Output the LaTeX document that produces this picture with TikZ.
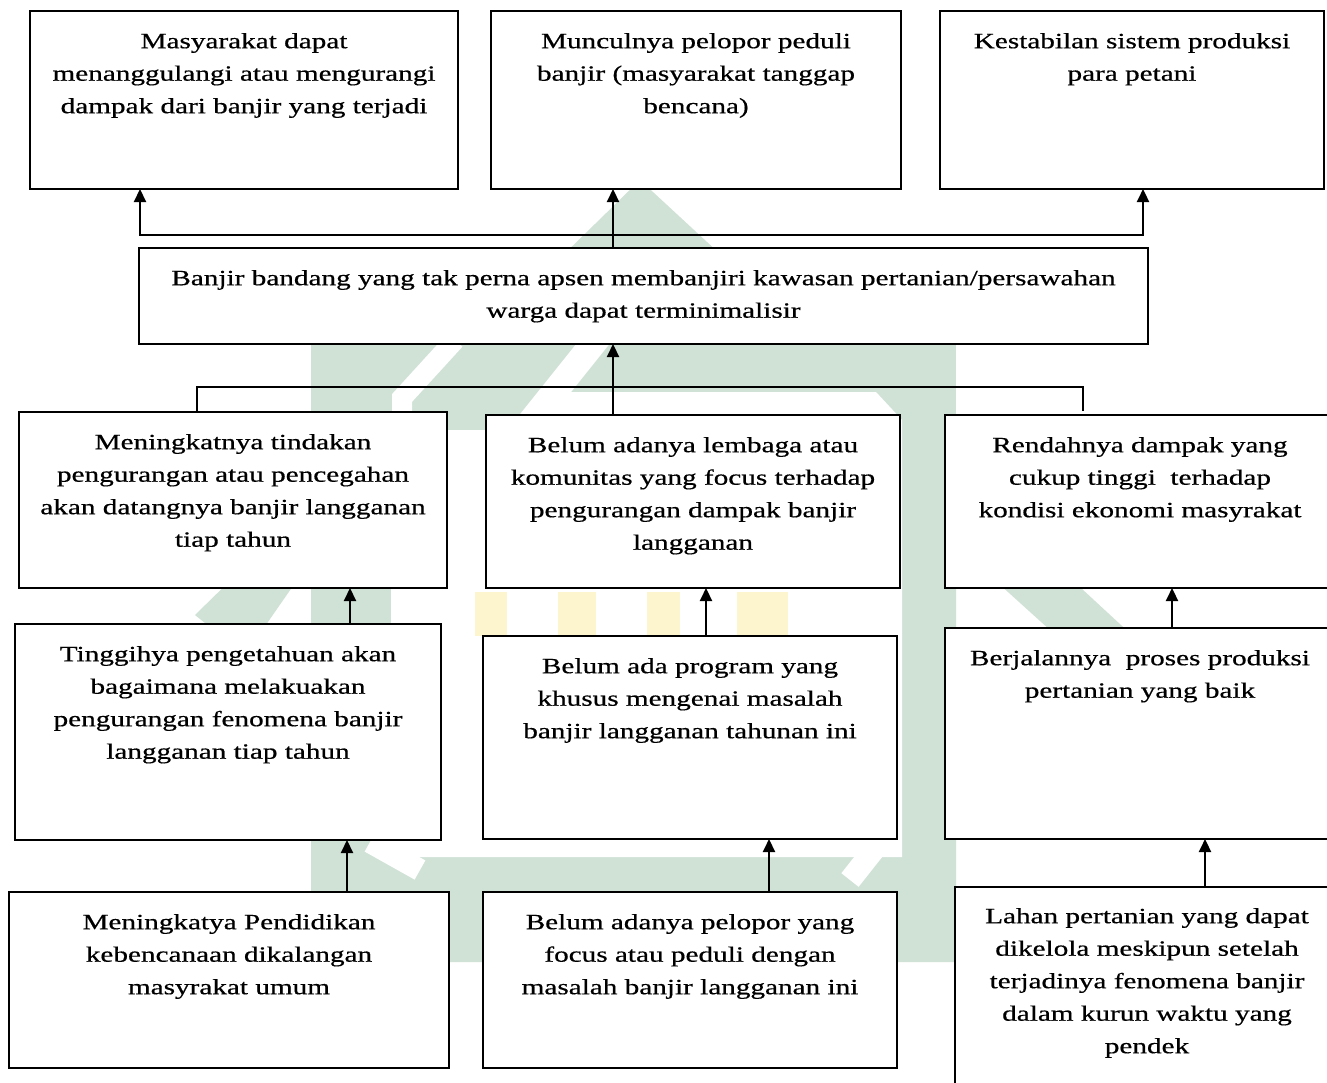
\documentclass[tikz,border=0pt]{standalone}
\usepackage{fontspec}
\usepackage{graphicx}
\newfontfamily\tnr[FakeBold=0.5]{Liberation Serif}
\usetikzlibrary{arrows.meta,fit}
\definecolor{wmgreen}{RGB}{208,226,214}
\definecolor{wmyellow}{RGB}{252,245,205}
\tikzset{
  box/.style={draw=black, fill=white, line width=2pt, inner sep=0pt, outer sep=0pt},
  txt/.style={anchor=north, inner sep=0pt, font=\tnr\fontsize{21.8}{32.5}\selectfont},
  arr/.style={line width=2.2pt, -{Triangle[length=13pt,width=12pt]}},
  conn/.style={line width=2pt},
  wmstripe/.style={draw=white, line width=#1}
}
\newcommand\mybox[5]{%
  \path (#2,#3) coordinate (#1@a) (#4,#5) coordinate (#1@b);
  \node[box, fit=(#1@a)(#1@b)] (#1) {};}
\newcommand\tx[1]{\scalebox{1.34}[1]{\begin{tabular}{@{}c@{}}#1\end{tabular}}}
\begin{document}
\begin{tikzpicture}[x=1pt,y=-1pt]
\useasboundingbox (0,0) rectangle (1327,1082);
\clip (0,0) rectangle (1327,1082);
\fill[white] (0,0) rectangle (1327,1082);
% faint watermark (behind the boxes)
\fill[wmgreen] (640,180) -- (1135,638) -- (1092,668) -- (956,545) -- (956,962)
  -- (311,962) -- (311,560) -- (245,655) -- (195,615) -- cycle;
\fill[wmgreen] (311,300) rectangle (956,962);
\fill[white] (391,600) -- (391,430) -- (523,430) -- (568,392) -- (876,392)
  -- (902,420) -- (902,857) -- (391,857) -- cycle;
\draw[wmstripe=20] (455,340) -- (402,398) -- (402,412);
\draw[wmstripe=26] (600,335) -- (520,435);
\draw[wmstripe=22] (370,842) -- (420,870);
\draw[wmstripe=22] (880,842) -- (850,880);
\fill[wmyellow] (475,592) rectangle (507,636);
\fill[wmyellow] (558,592) rectangle (596,636);
\fill[wmyellow] (647,592) rectangle (680,636);
\fill[wmyellow] (737,592) rectangle (788,636);
% boxes
\mybox{t1}{30}{11}{458}{189}
\mybox{t2}{491}{11}{901}{189}
\mybox{t3}{940}{11}{1324}{189}
\mybox{b}{139}{248}{1148}{344}
\mybox{m1}{19}{412}{447}{588}
\mybox{m2}{486}{415}{900}{588}
\mybox{m3}{945}{415}{1335}{588}
\mybox{n1}{15}{624}{441}{840}
\mybox{n2}{483}{636}{897}{839}
\mybox{n3}{945}{628}{1335}{839}
\mybox{r1}{9}{892}{449}{1068}
\mybox{r2}{483}{892}{897}{1068}
\mybox{r3}{955}{887}{1340}{1100}
% texts
\node[txt] (t1x) at (244,25.25) {\tx{Masyarakat dapat\\menanggulangi atau mengurangi\\dampak dari banjir yang terjadi}};
\node[txt] (t2x) at (696,25.25) {\tx{Munculnya pelopor peduli\\banjir (masyarakat tanggap\\bencana)}};
\node[txt] (t3x) at (1132,25.25) {\tx{Kestabilan sistem produksi\\para petani}};
\node[txt] (bx) at (643.5,262.25) {\tx{Banjir bandang yang tak perna apsen membanjiri kawasan pertanian/persawahan\\warga dapat terminimalisir}};
\node[txt] (m1x) at (233,426.25) {\tx{Meningkatnya tindakan\\pengurangan atau pencegahan\\akan datangnya banjir langganan\\tiap tahun}};
\node[txt] (m2x) at (693,429.25) {\tx{Belum adanya lembaga atau\\komunitas yang focus terhadap\\pengurangan dampak banjir\\langganan}};
\node[txt] (m3x) at (1140,429.25) {\tx{Rendahnya dampak yang\\cukup tinggi\ \ terhadap\\kondisi ekonomi masyrakat}};
\node[txt] (n1x) at (228,638.25) {\tx{Tinggihya pengetahuan akan\\bagaimana melakuakan\\pengurangan fenomena banjir\\langganan tiap tahun}};
\node[txt] (n2x) at (690,650.25) {\tx{Belum ada program yang\\khusus mengenai masalah\\banjir langganan tahunan ini}};
\node[txt] (n3x) at (1140,642.25) {\tx{Berjalannya\ \ proses produksi\\pertanian yang baik}};
\node[txt] (r1x) at (229,906.25) {\tx{Meningkatya Pendidikan\\kebencanaan dikalangan\\masyrakat umum}};
\node[txt] (r2x) at (690,906.25) {\tx{Belum adanya pelopor yang\\focus atau peduli dengan\\masalah banjir langganan ini}};
\node[txt] (r3x) at (1147,900.25) {\tx{Lahan pertanian yang dapat\\dikelola meskipun setelah\\terjadinya fenomena banjir\\dalam kurun waktu yang\\pendek}};
% upper connectors
\coordinate (ja) at (140,235);
\coordinate (jb) at (1143,235);
\coordinate (jm) at (613,235);
\draw[arr] (jb) -- (ja) -- (ja |- t1.south);
\draw[arr] (ja) -- (jb) -- (jb |- t3.south);
\draw[arr] (jm |- b.north) -- (jm |- t2.south);
% middle connectors
\coordinate (kl) at (197,387);
\coordinate (kr) at (1083,387);
\coordinate (km) at (613,387);
\coordinate (kre) at (1083,411);
\draw[conn] (kl |- m1.north) -- (kl) -- (kr) -- (kre);
\draw[arr] (km |- m2.north) -- (km |- b.south);
% lower arrows
\coordinate (c1) at (350,0);
\coordinate (c2) at (706,0);
\coordinate (c3) at (1172,0);
\coordinate (d1) at (347,0);
\coordinate (d2) at (769,0);
\coordinate (d3) at (1205,0);
\draw[arr] (c1 |- n1.north) -- (c1 |- m1.south);
\draw[arr] (c2 |- n2.north) -- (c2 |- m2.south);
\draw[arr] (c3 |- n3.north) -- (c3 |- m3.south);
\draw[arr] (d1 |- r1.north) -- (d1 |- n1.south);
\draw[arr] (d2 |- r2.north) -- (d2 |- n2.south);
\draw[arr] (d3 |- r3.north) -- (d3 |- n3.south);
\end{tikzpicture}
\end{document}
